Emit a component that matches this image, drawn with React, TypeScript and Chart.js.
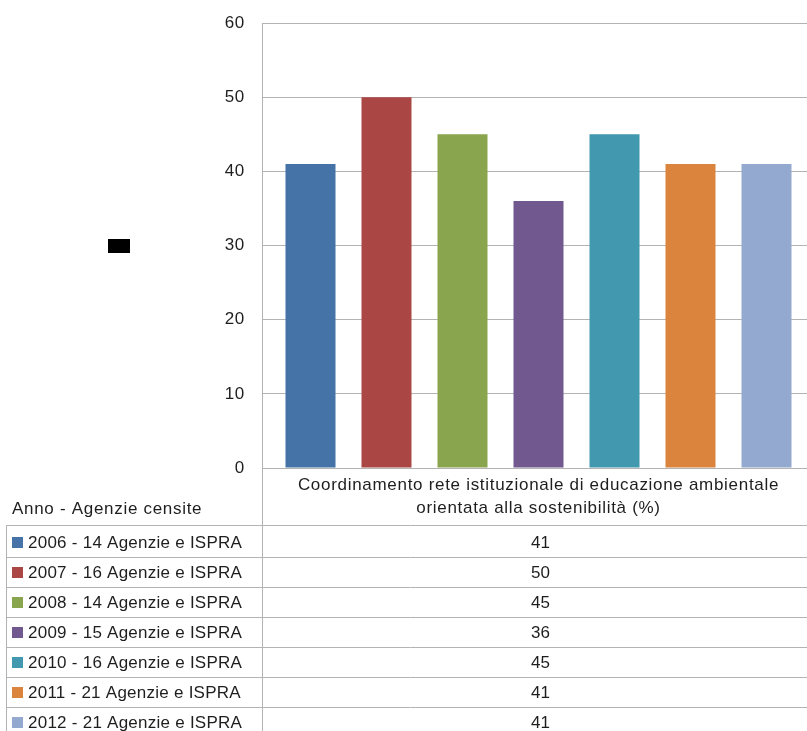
import React, { useEffect, useRef } from "react";
import { Chart, registerables } from "chart.js";

Chart.register(...registerables);

const categoryLabel = [
  "Coordinamento rete istituzionale di educazione ambientale",
  "orientata alla sostenibilità (%)",
];
const seriesNames = [
  "2006 - 14 Agenzie e ISPRA",
  "2007 - 16 Agenzie e ISPRA",
  "2008 - 14 Agenzie e ISPRA",
  "2009 - 15 Agenzie e ISPRA",
  "2010 - 16 Agenzie e ISPRA",
  "2011 - 21 Agenzie e ISPRA",
  "2012 - 21 Agenzie e ISPRA",
];
const seriesValues = [41, 50, 45, 36, 45, 41, 41];
const seriesColors = [
  "#4572A7",
  "#AA4643",
  "#89A54E",
  "#71588F",
  "#4198AF",
  "#DB843D",
  "#93A9CF",
];
const tableHeader = "Anno - Agenzie censite";

const FONT = '"Liberation Sans", Arial, sans-serif';
const TEXT = "#1e1e1e";
const LINE = "#b3b3b3";

const spacingPlugin = {
  id: "spacing",
  beforeDraw(chart: any) {
    (chart.ctx as any).letterSpacing = "0.7px";
  },
};

const tablePlugin = {
  id: "dataTable",
  afterDraw(chart: any) {
    const ctx = chart.ctx;
    const area = chart.chartArea;
    const W = chart.width;
    const H = chart.height;
    const left = 6;
    const tableTop = 525;
    const rowH = 30;
    const firstLine = 557;
    ctx.save();
    ctx.strokeStyle = LINE;
    ctx.lineWidth = 1;
    ctx.beginPath();
    ctx.moveTo(area.left + 0.5, area.bottom);
    ctx.lineTo(area.left + 0.5, H);
    ctx.moveTo(left + 0.5, tableTop);
    ctx.lineTo(left + 0.5, H);
    ctx.moveTo(left, tableTop + 0.5);
    ctx.lineTo(W, tableTop + 0.5);
    for (let i = 0; i < seriesNames.length - 1; i++) {
      const y = firstLine + i * rowH + 0.5;
      ctx.moveTo(left, y);
      ctx.lineTo(W, y);
    }
    ctx.stroke();

    ctx.font = `17px ${FONT}`;
    ctx.textBaseline = "middle";
    ctx.fillStyle = TEXT;
    ctx.textAlign = "left";
    (ctx as any).letterSpacing = "0.7px";
    ctx.fillText(tableHeader, 12, 509);

    const cx = (area.left + area.right) / 2 + 2;
    seriesNames.forEach((name, i) => {
      const cy = 542 + i * rowH;
      ctx.fillStyle = seriesColors[i];
      ctx.fillRect(12, cy - 5, 11, 11);
      ctx.fillStyle = TEXT;
      ctx.textAlign = "left";
      (ctx as any).letterSpacing = "0.25px";
      ctx.fillText(name, 28, cy + 1);
      ctx.textAlign = "center";
      (ctx as any).letterSpacing = "0px";
      ctx.fillText(String(seriesValues[i]), cx, cy + 1);
    });
    ctx.restore();
  },
};

export default function App() {
  const ref = useRef<HTMLCanvasElement | null>(null);
  useEffect(() => {
    if (!ref.current) return;
    const chart = new Chart(ref.current, {
      type: "bar",
      data: {
        labels: [categoryLabel],
        datasets: seriesNames.map((name, i) => ({
          label: name,
          data: [seriesValues[i]],
          backgroundColor: seriesColors[i],
          borderWidth: 0,
          categoryPercentage: 532 / 553,
          barPercentage: 50 / 76,
        })),
      },
      options: {
        responsive: false,
        animation: false,
        devicePixelRatio: 1,
        layout: { padding: { top: 23, left: 0, right: 0, bottom: 0 } },
        plugins: {
          legend: { display: false },
          tooltip: { enabled: false },
        },
        scales: {
          x: {
            grid: { display: false, drawTicks: false },
            border: { color: LINE, width: 1 },
            ticks: {
              color: TEXT,
              font: { family: FONT, size: 17, lineHeight: "23px" as any },
              padding: 6,
              maxRotation: 0,
              autoSkip: false,
            },
            afterFit: (s: any) => {
              s.height = 263;
              s.paddingLeft = 0;
              s.paddingRight = 0;
            },
          },
          y: {
            min: 0,
            max: 60,
            ticks: {
              stepSize: 10,
              color: TEXT,
              font: { family: FONT, size: 17 },
              padding: 17,
            },
            grid: { color: LINE, drawTicks: false },
            border: { color: LINE, width: 1 },
            afterFit: (s: any) => {
              s.width = 262;
              s.paddingTop = 0;
              s.paddingBottom = 0;
            },
          },
        },
      },
      plugins: [spacingPlugin, tablePlugin],
    });
    return () => chart.destroy();
  }, []);

  return (
    <div
      style={{
        position: "fixed",
        left: 0,
        top: 0,
        width: 807,
        height: 731,
        overflow: "hidden",
        background: "#fff",
      }}
    >
      <canvas
        ref={ref}
        width={815}
        height={731}
        style={{ position: "absolute", left: 0, top: 0, width: 815, height: 731 }}
      />
      <div
        style={{
          position: "absolute",
          left: 108,
          top: 239,
          width: 22,
          height: 14,
          background: "#000",
        }}
      />
    </div>
  );
}
